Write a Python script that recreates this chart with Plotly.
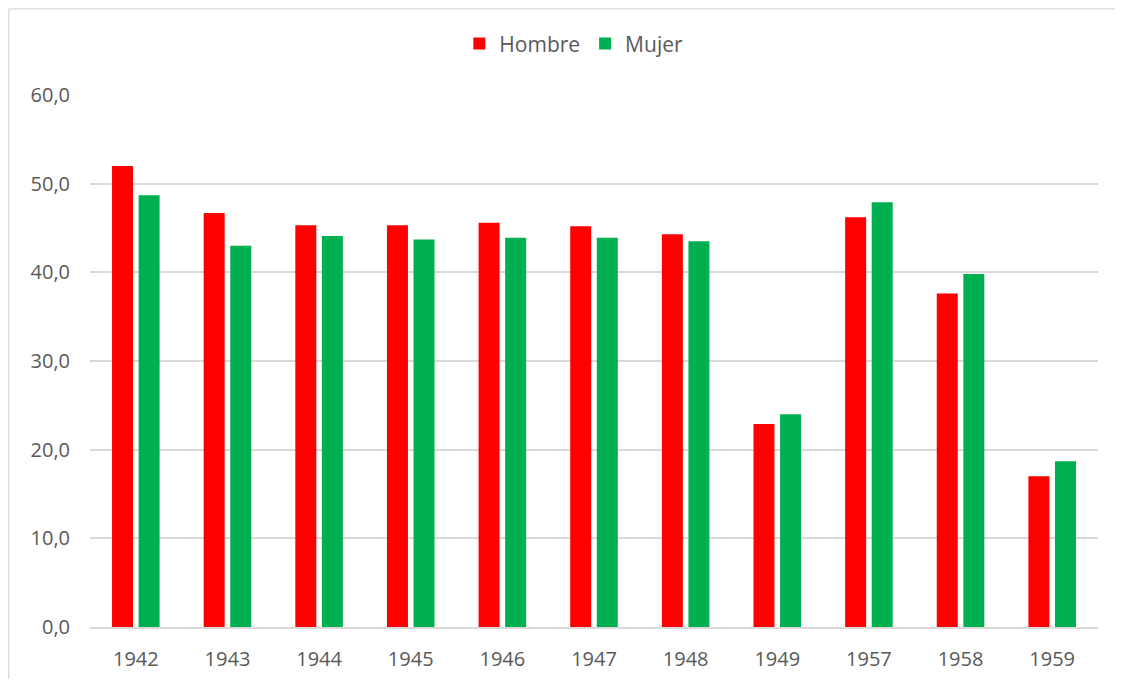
import plotly.graph_objects as go

years = ["1942", "1943", "1944", "1945", "1946", "1947", "1948", "1949", "1957", "1958", "1959"]
hombre = [52.0, 46.7, 45.3, 45.3, 45.6, 45.2, 44.3, 22.9, 46.2, 37.6, 17.0]
mujer = [48.7, 43.0, 44.1, 43.7, 43.9, 43.9, 43.5, 24.0, 47.9, 39.8, 18.7]
y_ticks = [0, 10, 20, 30, 40, 50, 60]

font_family = "Open Sans, Liberation Sans, sans-serif"
text_color = "#595959"

# page body adds an ~8px margin; figure sized to avoid scrollbars,
# plot area kept at 1008x532 px
W, H = 1107, 671
L, T, PW, PH = 82, 87, 1008, 532

fig = go.Figure()
fig.add_trace(go.Bar(x=years, y=hombre, name="Hombre", marker_color="#FF0000",
                     marker_line_width=0))
fig.add_trace(go.Bar(x=years, y=mujer, name="Mujer", marker_color="#00B050",
                     marker_line_width=0))

fig.update_layout(
    width=W, height=H,
    margin=dict(l=L, r=W - L - PW, t=T, b=H - T - PH, autoexpand=False),
    paper_bgcolor="white", plot_bgcolor="white",
    barmode="group", bargap=0.42, bargroupgap=0.21,
    separators=",.",
    font=dict(family=font_family, size=20, color=text_color),
    legend=dict(orientation="h", x=0.48, xanchor="center", y=1.096, yanchor="middle",
                font=dict(size=21, color=text_color), itemwidth=30,
                traceorder="normal", bgcolor="rgba(0,0,0,0)"),
    showlegend=True,
)
fig.update_yaxes(range=[0, 60], tickvals=y_ticks, tickformat=".1f",
                 showgrid=True, gridcolor="#D9D9D9", gridwidth=1.5,
                 zeroline=False, showline=False, ticks="", ticklabelstandoff=19,
                 fixedrange=True, automargin=False)
fig.update_xaxes(type="category", showline=True, linecolor="#D9D9D9", linewidth=1.8,
                 ticks="", ticklabelstandoff=13, showgrid=False, automargin=False)

# chart border: top and left edges only, kept inside the figure
bx = (0.8 - L) / PW
by = (T + PH - 0.8) / PH
fig.add_shape(type="line", xref="paper", yref="paper",
              x0=bx, x1=(W - L) / PW, y0=by, y1=by,
              line=dict(color="#D9D9D9", width=1.3), layer="below")
fig.add_shape(type="line", xref="paper", yref="paper",
              x0=bx, x1=bx, y0=by, y1=(T + PH - H) / PH,
              line=dict(color="#D9D9D9", width=1.3), layer="below")

fig.write_html("out.html")
